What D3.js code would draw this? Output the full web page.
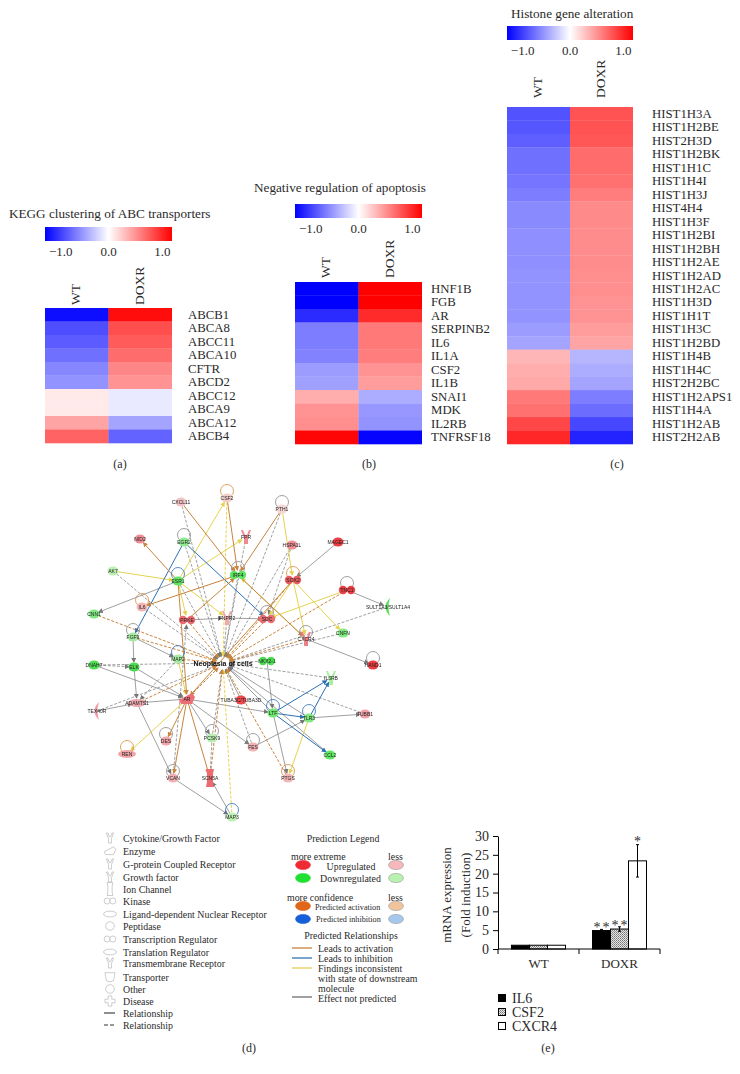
<!DOCTYPE html>
<html><head><meta charset="utf-8">
<style>html,body{margin:0;padding:0;background:#fff}svg{display:block}text{font-family:"Liberation Serif",serif;fill:#2a2a2a}.n text,text.n{font-family:"Liberation Sans",sans-serif}</style>
<script src="https://cdn.jsdelivr.net/npm/d3@7"></script></head><body><div id="c"></div>
<script>
const columns=["WT","DOXR"];
const genesA=["ABCB1","ABCA8","ABCC11","ABCA10","CFTR","ABCD2","ABCC12","ABCA9","ABCA12","ABCB4"];
const wtA=[-1.12,-0.82,-0.76,-0.66,-0.56,-0.5,0.1,0.1,0.42,0.72];
const doxA=[1.12,0.82,0.76,0.68,0.56,0.5,-0.1,-0.1,-0.42,-0.72];
const genesB=["HNF1B","FGB","AR","SERPINB2","IL6","IL1A","CSF2","IL1B","SNAI1","MDK","IL2RB","TNFRSF18"];
const wtB=[-1.18,-1.18,-0.98,-0.6,-0.6,-0.58,-0.46,-0.44,0.38,0.5,0.52,1.15];
const doxB=[1.18,1.18,0.98,0.62,0.62,0.6,0.5,0.46,-0.38,-0.48,-0.5,-1.16];
const genesC=["HIST1H3A","HIST1H2BE","HIST2H3D","HIST1H2BK","HIST1H1C","HIST1H4I","HIST1H3J","HIST4H4","HIST1H3F","HIST1H2BI","HIST1H2BH","HIST1H2AE","HIST1H2AD","HIST1H2AC","HIST1H3D","HIST1H1T","HIST1H3C","HIST1H2BD","HIST1H4B","HIST1H4C","HIST2H2BC","HIST1H2APS1","HIST1H4A","HIST1H2AB","HIST2H2AB"];
const wtC=[-0.8,-0.78,-0.74,-0.66,-0.66,-0.64,-0.6,-0.54,-0.54,-0.52,-0.52,-0.52,-0.5,-0.5,-0.5,-0.5,-0.46,-0.42,0.34,0.38,0.4,0.62,0.66,0.85,1.0];
const doxC=[0.8,0.8,0.78,0.68,0.68,0.66,0.6,0.54,0.54,0.53,0.53,0.53,0.52,0.52,0.5,0.5,0.46,0.42,-0.34,-0.38,-0.42,-0.6,-0.68,-0.85,-1.02];
const colorTicks=[-1,0,1];
const titles=["KEGG clustering of ABC transporters","Negative regulation of apoptosis","Histone gene alteration"];

const svg=d3.select("#c").append("svg").attr("width",740).attr("height",1074);
const defs=svg.append("defs");
const color=d3.scaleLinear().domain([-1.18,0,1.18]).range(["#0000ff","#ffffff","#ff0000"]).clamp(true);
const grad=defs.append("linearGradient").attr("id","cb");
[0,0.5,1].forEach(t=>grad.append("stop").attr("offset",t).attr("stop-color",color(-1.18+2.36*t)));

function heat(o){
  const g=svg.append("g");
  const x=d3.scaleBand().domain(columns).range([o.x0,o.x1]);
  const y=d3.scaleBand().domain(o.genes).range([o.y0,o.y1]);
  g.append("text").attr("x",o.tx).attr("y",o.ty).attr("font-size",13.2).text(o.title);
  g.append("rect").attr("x",o.x0).attr("y",o.cb).attr("width",o.x1-o.x0).attr("height",14).attr("fill","url(#cb)");
  const c=d3.scaleLinear().domain([-1.18,1.18]).range([o.x0,o.x1]);
  g.selectAll(".t").data(colorTicks).join("text").attr("x",d=>c(d)+(d<0?6:0)).attr("y",o.cb+29).attr("text-anchor","middle").attr("font-size",13).text(d=>d3.format(".1f")(d).replace("-","\u2212"));
  g.selectAll(".h").data(columns).join("text").attr("transform",d=>`translate(${x(d)+x.bandwidth()/2+o.hx},${o.hy}) rotate(-90)`).attr("font-size",13.5).attr("dominant-baseline","central").text(d=>d);
  [o.wt,o.dox].forEach((vals,i)=>{
    g.selectAll(".r"+i).data(vals).join("rect").attr("x",x(columns[i])).attr("y",(d,j)=>y(o.genes[j])).attr("width",x.bandwidth()+(i==0?.3:0)).attr("height",y.bandwidth()+.3).attr("fill",d=>color(d));
  });
  g.selectAll(".l").data(o.genes).join("text").attr("x",o.lx).attr("y",d=>y(d)+y.bandwidth()/2).attr("dominant-baseline","central").attr("font-size",12.8).text(d=>d);
  g.append("text").attr("x",o.px).attr("y",o.py).attr("text-anchor","middle").attr("font-size",12).text(o.pl);
}
heat({genes:genesA,wt:wtA,dox:doxA,title:titles[0],x0:45,x1:172,y0:308,y1:443,cb:227,tx:9,ty:218,hx:-1,hy:305,lx:188,px:120,py:468,pl:"(a)"});
heat({genes:genesB,wt:wtB,dox:doxB,title:titles[1],x0:295,x1:422,y0:282,y1:444,cb:204,tx:254,ty:192,hx:-1,hy:278,lx:431,px:369,py:468,pl:"(b)"});
heat({genes:genesC,wt:wtC,dox:doxC,title:titles[2],x0:507,x1:633,y0:107,y1:444,cb:26,tx:511,ty:18,hx:-1,hy:98,lx:652,px:617,py:468,pl:"(c)"});

/* network, panel d */
const centerName="Neoplasia of cells";
const nodeNames=["CXCL11","CSF2","NID2","EGR2","AK7","ESR1","IL6","CNN1","PRKE","FNPR2","FGF9","PTH1","FPR","HSPA1L","MAGEC1","IRF4","SOX2","TNC1","SULT1A3/SULT1A4","SDC","CXCR4","CNFN","DNAH7","ELK","MAP2",centerName,"ADAMTS1","AR","TEX40R","TUBA3C/TUBA3D","DES","REN","VCAN","SCN5A","PCSK9","MAP3","NKX2-1","HAND1","IL3RB","LTF","TLR3","TUBB1","CCL2","FES","PTGS"];
const nodeX=[101,147,60,104,33,98,62,14,107,147,53,202,166,212,258,158,213,267,308,187,226,263,14,54,98,143,57,107,17,161,86,47,93,130,132,152,187,293,251,193,229,285,250,173,208];
const nodeY=[12,8,49,52,81,91,117,124,130,128,147,19,47,55,52,85,90,100,117,129,149,143,175,177,169,173,213,209,221,210,251,264,288,288,248,327,171,175,188,223,228,224,265,257,288];
const nodeShape=["oval","oval","oval","oval","oval","oval","oval","oval","double","y","oval","oval","y","oval","oval","double","double","double","cres","double","y","oval","oval","oval","oval","none","wide","wedge","cres","oval","oval","wide","oval","rect","oval","oval","double","oval","y","oval","oval","oval","oval","oval","oval"];
const nodeFill=["#f2c2c4","#f4cfc9","#ee8f95","#8fe98f","#bdf0b2","#5ee660","#f2b6b6","#7fe87f","#ee6a6f","#f0a8ac","#a5eaa0","#f6d5d5","#ee8a90","#ee8f95","#ee3a40","#5ee660","#ea5a5e","#ea3f44","#55e058","#ea6d72","#ec8087","#80ea80","#4fe050","#4edc50","#a5eaa0","#e88a30","#eeaab0","#ec7076","#ee9aa0","#ec4a50","#f2a6aa","#f2a6aa","#f2b0b4","#ec6a70","#b8efb0","#bdf0b2","#4edc50","#ee3a40","#a8f0a0","#6fe870","#7fe87f","#f0a0a6","#5ee660","#f2b0b4","#f4b8b8"];
const nodeLoop=["","o","","g","","i","o","","","","g","g","","","","g","o","g","","g","g","","","","i","","","","","","g","o","g","","g","i","","g","","i","i","","","g","o"];
const edgeRows=[
["CXCL11",centerName,"g",1],["EGR2",centerName,"g",1],["ESR1",centerName,"g",1],["CSF2",centerName,"y",1],["FNPR2",centerName,"g",1],["IRF4",centerName,"g",1],["FPR",centerName,"g",1],["PTH1",centerName,"g",1],["HSPA1L",centerName,"g",1],["SOX2",centerName,"a",1],["SDC",centerName,"a",1],["TNC1",centerName,"a",1],["CXCR4",centerName,"a",1],["CNFN",centerName,"g",1],["SULT1A3/SULT1A4",centerName,"g",1],["NKX2-1",centerName,"g",1],["IL3RB",centerName,"g",1],["TUBB1",centerName,"g",1],["LTF",centerName,"g",0],["TLR3",centerName,"g",0],["CCL2",centerName,"g",0],["PTGS",centerName,"a",1],["FES",centerName,"g",1],["TUBA3C/TUBA3D",centerName,"g",0],["MAP3",centerName,"y",1],["PCSK9",centerName,"g",1],["SCN5A",centerName,"a",1],["AR",centerName,"a",1],["ADAMTS1",centerName,"a",1],["TEX40R",centerName,"g",1],["MAP2",centerName,"a",1],["DNAH7",centerName,"g",1],["CNN1",centerName,"a",1],["FGF9",centerName,"a",1],["IL6",centerName,"g",1],["PRKE",centerName,"a",1],["AK7",centerName,"g",1],
["CXCL11","IRF4","a",0],["CSF2","IRF4","a",0],["EGR2","FGF9","i",0],["EGR2","SDC","i",0],["ESR1","NID2","a",0],["AK7","ESR1","y",0],["ESR1","CSF2","y",0],["ESR1","FPR","y",0],["ESR1","PRKE","y",0],["IRF4","IL6","a",0],["ESR1","CNN1","g",0],["PRKE","IRF4","a",0],["PRKE","FNPR2","g",0],["FNPR2","SDC","g",0],["ESR1","FNPR2","y",0],["IRF4","CXCR4","a",0],["CXCR4","IRF4","y",0],["PTH1","IRF4","a",0],["PTH1","SOX2","y",0],["HSPA1L","SDC","g",1],["MAGEC1","SOX2","g",0],["SOX2","CXCR4","y",0],["SOX2","CNFN","y",0],["SOX2","SDC","y",0],["SOX2","AR","a",0],["TNC1","SDC","y",0],["TNC1","SULT1A3/SULT1A4","g",0],["CXCR4","HAND1","g",0],["FGF9","ELK","g",0],["DNAH7","ELK","g",1],["DNAH7","AR","g",0],["ELK","AR","g",0],["ELK","ADAMTS1","g",0],["MAP2","ADAMTS1","g",1],["ESR1","AR","a",0],["MAP2","AR","y",0],["AR","REN","y",0],["AR","DES","a",0],["AR","VCAN","a",0],["AR","SCN5A","a",0],["AR","PCSK9","g",0],["AR","ADAMTS1","g",0],["TEX40R","ADAMTS1","g",0],["ADAMTS1","VCAN","g",0],["VCAN","MAP3","g",0],["MAP3","SCN5A","g",0],["PCSK9","SCN5A","g",1],["VCAN","PRKE","g",1],["AR","LTF","g",0],["AR","FES","g",0],["LTF","TLR3","i",0],["LTF","IL3RB","i",0],["LTF","CCL2","i",0],["TLR3","IL3RB","i",0],["TLR3","PTGS","y",0],["LTF","PTGS","g",0],["TLR3","TUBB1","g",0],["FES","TLR3","g",0],["NKX2-1","LTF","g",0],["FGF9","MAP2","g",0]];
const nx=d3.scaleLinear().domain([0,330]).range([80,410]), ny=d3.scaleLinear().domain([0,340]).range([490,830]);
const ecol={a:"#c9843c",i:"#2d6fb5",y:"#e6d24f",g:"#777777"};
Object.entries(ecol).forEach(([k,c])=>defs.append("marker").attr("id","m"+k).attr("viewBox","0 0 6 6").attr("refX",5).attr("refY",3).attr("markerWidth",5).attr("markerHeight",5).attr("markerUnits","userSpaceOnUse").attr("orient","auto").append("path").attr("d","M0,0L6,3L0,6Z").attr("fill",c));
defs.append("filter").attr("id","soft").append("feGaussianBlur").attr("stdDeviation",0.4);
const net=svg.append("g").attr("class","n").attr("filter","url(#soft)");
const idx=new Map(nodeNames.map((d,i)=>[d,i]));
const edges=edgeRows.map(r=>({a:idx.get(r[0]),b:idx.get(r[1]),k:r[2],d:r[3]===1,s:r[1]===centerName?7:5}));
const order=["g","y","i","a"];
const tip=(d,axis)=>{const X=nx(nodeX[d.b])-nx(nodeX[d.a]),Y=ny(nodeY[d.b])-ny(nodeY[d.a]),L=Math.hypot(X,Y)||1;return axis===0?nx(nodeX[d.a])+X*(1-d.s/L):ny(nodeY[d.a])+Y*(1-d.s/L)};
net.selectAll(".e").data(edges.slice().sort((p,q)=>order.indexOf(p.k)-order.indexOf(q.k))).join("line")
 .attr("x1",d=>nx(nodeX[d.a])).attr("y1",d=>ny(nodeY[d.a]))
 .attr("x2",d=>tip(d,0)).attr("y2",d=>tip(d,1))
 .attr("stroke",d=>ecol[d.k]).attr("stroke-width",d=>d.k==="g"?.7:1).attr("stroke-dasharray",d=>d.d?"3 1.6":null).attr("marker-end",d=>`url(#m${d.k})`);
function shape(g,t,fill,stroke,s){
  s=s||1;const sw=stroke==="none"?0:.8;
  const st=e=>e.attr("fill",fill).attr("stroke",stroke).attr("stroke-width",sw);
  if(t==="oval")st(g.append("ellipse").attr("rx",5.5*s).attr("ry",4.5*s));
  if(t==="circle")st(g.append("circle").attr("r",6*s));
  if(t==="wide")st(g.append("ellipse").attr("rx",9*s).attr("ry",4*s));
  if(t==="double"){st(g.append("circle").attr("cx",-4*s).attr("r",4.2*s));st(g.append("circle").attr("cx",4*s).attr("r",4.2*s));}
  if(t==="y")st(g.append("path").attr("d",`M${-5*s},${-7*s}L${-3*s},${-7*s}L${-1*s},${-2*s}L${1*s},${-2*s}L${3*s},${-7*s}L${5*s},${-7*s}L${2*s},${1*s}L${2*s},${7*s}L${-2*s},${7*s}L${-2*s},${1*s}Z`));
  if(t==="rect")st(g.append("path").attr("d",`M${-4*s},${-9*s}L${4*s},${-9*s}L${3*s},${-4*s}L${3*s},${4*s}L${4*s},${9*s}L${-4*s},${9*s}L${-3*s},${4*s}L${-3*s},${-4*s}Z`));
  if(t==="cres")st(g.append("path").attr("d",`M${2*s},${-9*s}Q${-7*s},0 ${2*s},${9*s}Q${-1*s},0 ${2*s},${-9*s}Z`));
  if(t==="wedge")st(g.append("path").attr("d",`M${-8*s},${1*s}L${5*s},${-6*s}L${8*s},${-2*s}L${5*s},${5*s}L${-6*s},${5*s}Z`));
  if(t==="cup")st(g.append("path").attr("d",`M${-7*s},${-6*s}L${7*s},${-6*s}L${5*s},${5*s}Q0,${9*s} ${-5*s},${5*s}Z`));
  if(t==="cross")st(g.append("path").attr("d",`M${-2.5*s},${-7*s}H${2.5*s}V${-2.5*s}H${7*s}V${2.5*s}H${2.5*s}V${7*s}H${-2.5*s}V${2.5*s}H${-7*s}V${-2.5*s}H${-2.5*s}Z`));
}
const nodes=net.selectAll(".nd").data(nodeNames).join("g").attr("transform",(d,i)=>`translate(${nx(nodeX[i])},${ny(nodeY[i])})`);
const loopColor={o:"#d98a3a",i:"#2d6fb5",g:"#888888"};
nodes.each(function(d,i){
  const g=d3.select(this);
  if(nodeLoop[i]){g.append("circle").attr("cy",-7).attr("cx",0).attr("r",6.5).attr("fill","none").attr("stroke",loopColor[nodeLoop[i]]).attr("stroke-width",.8);}
  if(nodeShape[i]!=="none")shape(g,nodeShape[i],nodeFill[i],"none");
  if(d===centerName){g.append("text").attr("text-anchor","middle").attr("y",2.5).attr("font-size",7).attr("font-weight","bold").attr("style","fill:#111").text(d);}
  else g.append("text").attr("text-anchor","middle").attr("y",2).attr("font-size",5).attr("style","fill:#222").text(d);
});

/* legend, panel d */
const legendLabels=["Cytokine/Growth Factor","Enzyme","G-protein Coupled Receptor","Growth factor","Ion Channel","Kinase","Ligand-dependent Nuclear Receptor","Peptidase","Transcription Regulator","Translation Regulator","Transmembrane Receptor","Transporter","Other","Disease","Relationship","Relationship"];
const legendIcons=["y","wedge","y","y","rect","double","wide","circle","double","wide","y","cup","circle","cross","line","dash"];
const legendRows=[838,851,864,877,889,901,914,926,939,952,963,977,989,1001,1013,1025];
const leg=svg.append("g");
legendLabels.forEach((t,i)=>{
  const g=leg.append("g").attr("transform",`translate(110,${legendRows[i]})`);
  if(legendIcons[i]==="line")g.append("line").attr("x1",-6).attr("x2",5).attr("stroke","#333").attr("stroke-width",1.1);
  else if(legendIcons[i]==="dash")g.append("line").attr("x1",-6).attr("x2",5).attr("stroke","#333").attr("stroke-width",1.1).attr("stroke-dasharray","4 2");
  else {const h=g.append("g").attr("transform","scale(0.72)");shape(h,legendIcons[i],"#fff","#aaa",1);}
  leg.append("text").attr("x",123).attr("y",legendRows[i]).attr("dominant-baseline","central").attr("font-size",9.9).text(t);
});
const pl=svg.append("g");
const lt=(x,y,t,fs,an)=>pl.append("text").attr("x",x).attr("y",y).attr("dominant-baseline","central").attr("font-size",fs).attr("text-anchor",an||"start").text(t);
lt(343,838,"Prediction Legend",9.9,"middle");
lt(291,856,"more extreme",9.9);lt(388,856,"less",9.9);
lt(351,866,"Upregulated",9.9,"middle");lt(350.5,878.5,"Downregulated",9.9,"middle");
lt(287,897,"more confidence",9.9);lt(388,897,"less",9.9);
lt(315,907,"Predicted activation",8.2);lt(316,919,"Predicted inhibition",8.2);
lt(351,935,"Predicted Relationships",9.9,"middle");
[[948,"Leads to activation"],[958,"Leads to inhibition"],[968,"Findings inconsistent"],[978,"with state of downstream"],[988,"molecule"],[998,"Effect not predicted"]].forEach(d=>lt(318,d[0],d[1],9.9));
[[303,865,"#ee2b35","#ee2b35"],[396,865,"#f7b8bd","#999"],[303,878,"#22e033","#22e033"],[396,878,"#b8f2b0","#999"],[303,906,"#e0661a","#e0661a"],[396,906,"#f2c49c","#999"],[303,919,"#1560d8","#1560d8"],[396,919,"#a6c8ee","#999"]].forEach(d=>pl.append("ellipse").attr("cx",d[0]).attr("cy",d[1]).attr("rx",7.5).attr("ry",4.6).attr("fill",d[2]).attr("stroke",d[3]).attr("stroke-width",.6));
[[948,"#c98a4a"],[958,"#3f7fb5"],[968,"#e6d25c"],[997,"#777"]].forEach(d=>pl.append("line").attr("x1",292).attr("x2",312).attr("y1",d[0]).attr("y2",d[0]).attr("stroke",d[1]).attr("stroke-width",1.4));
svg.append("text").attr("x",249).attr("y",1052).attr("text-anchor","middle").attr("font-size",12).text("(d)");

/* bar chart, panel e */
const groups=["WT","DOXR"];
const seriesNames=["IL6","CSF2","CXCR4"];
const il6=[1,4.9], csf2=[1,5.3], cxcr4=[1,23.4];
const errIl6=[0,0.3], errCsf2=[0,0.6], errCxcr4=[0,4.3];
const starLabels=["**","**","*"];
const barTicks=[0,5,10,15,20,25,30];
const pat=defs.append("pattern").attr("id","hat").attr("width",2).attr("height",2).attr("patternUnits","userSpaceOnUse");
pat.append("rect").attr("width",2).attr("height",2).attr("fill","#e4e4e4");
pat.append("rect").attr("width",1).attr("height",1).attr("fill","#777");
pat.append("rect").attr("x",1).attr("y",1).attr("width",1).attr("height",1).attr("fill","#999");
const fills=["#000","url(#hat)","#fff"];
const X=d3.scaleBand().domain(groups).range([498,660]).paddingInner(1/3).paddingOuter(1/6);
const XS=d3.scaleBand().domain(seriesNames).range([0,X.bandwidth()]);
const Y=d3.scaleLinear().domain([0,30]).range([949,836]);
const be=svg.append("g");
[il6,csf2,cxcr4].forEach((vals,s)=>{
  const errs=[errIl6,errCsf2,errCxcr4][s];
  groups.forEach((gr,i)=>{
    const bx=X(gr)+XS(seriesNames[s]);
    be.append("rect").attr("x",bx).attr("y",Y(vals[i])).attr("width",XS.bandwidth()).attr("height",Y(0)-Y(vals[i])).attr("fill",fills[s]).attr("stroke","#000").attr("stroke-width",1);
    if(errs[i]>0){
      const cx=bx+XS.bandwidth()/2;
      be.append("line").attr("x1",cx).attr("x2",cx).attr("y1",Y(vals[i]+errs[i])).attr("y2",Y(vals[i]-errs[i])).attr("stroke","#000");
      [1,-1].forEach(k=>be.append("line").attr("x1",cx-1.5).attr("x2",cx+1.5).attr("y1",Y(vals[i]+k*errs[i])).attr("y2",Y(vals[i]+k*errs[i])).attr("stroke","#000"));
      be.append("text").attr("x",cx+(s==2?0:1)).attr("y",Y(vals[i]+errs[i])+(s==2?1:3)).attr("text-anchor","middle").attr("font-size",14).attr("letter-spacing",s==2?0:2).text(starLabels[s]);
    }
  });
});
const ya=be.append("g").attr("transform","translate(498,0)").call(d3.axisLeft(Y).tickValues(barTicks).tickSize(5).tickSizeOuter(0));
ya.selectAll("text").attr("font-size",14).attr("font-family","Liberation Serif").attr("dx",-1);
const xa=be.append("g").attr("transform","translate(0,949)");
xa.append("line").attr("x1",498).attr("x2",660).attr("stroke","#000");
const xEdge=[0,1,2];
const xTick=d3.scaleLinear().domain([0,2]).range([498,660]);
xEdge.forEach(d=>xa.append("line").attr("x1",xTick(d)).attr("x2",xTick(d)).attr("y1",0).attr("y2",5).attr("stroke","#000"));
groups.forEach(gr=>be.append("text").attr("x",X(gr)+X.bandwidth()/2).attr("y",968).attr("text-anchor","middle").attr("font-size",13).text(gr));
be.append("text").attr("transform","translate(446,895) rotate(-90)").attr("text-anchor","middle").attr("dominant-baseline","central").attr("font-size",13).text("mRNA expression");
be.append("text").attr("transform","translate(465,895) rotate(-90)").attr("text-anchor","middle").attr("dominant-baseline","central").attr("font-size",13).text("(Fold induction)");
seriesNames.forEach((n,i)=>{
  const yy=998+i*14;
  be.append("rect").attr("x",498.5).attr("y",yy-3.5).attr("width",7).attr("height",7).attr("fill",fills[i]).attr("stroke","#000");
  be.append("text").attr("x",512).attr("y",yy).attr("dominant-baseline","central").attr("font-size",14).text(n);
});
svg.append("text").attr("x",548).attr("y",1052).attr("text-anchor","middle").attr("font-size",12).text("(e)");
</script></body></html>
